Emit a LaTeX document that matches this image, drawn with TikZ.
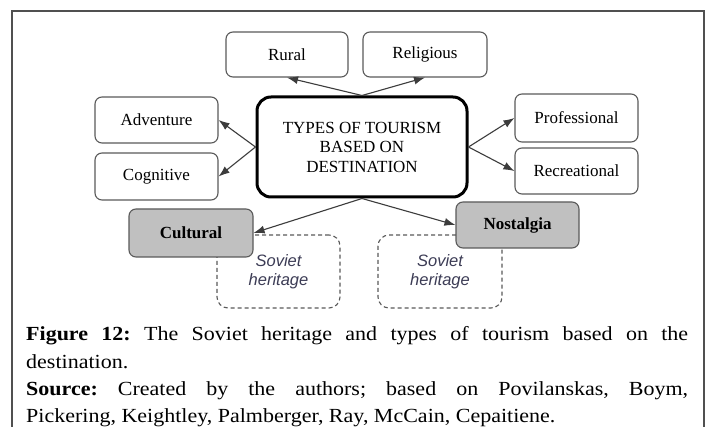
\documentclass[tikz,border=0pt]{standalone}
\usepackage{fontspec}
\setmainfont{Liberation Serif}
\newfontfamily\capfont[FakeStretch=1.1]{Liberation Serif}
\newfontfamily\sovfont{Liberation Sans}
\usetikzlibrary{arrows.meta}
\definecolor{framec}{RGB}{80,80,80}
\definecolor{boxc}{RGB}{90,90,90}
\definecolor{greyfill}{RGB}{192,192,192}
\definecolor{arrowc}{RGB}{60,60,60}
\definecolor{sovc}{RGB}{60,60,85}
\frenchspacing
\tikzset{
  typebox/.style={draw=boxc, line width=1.1pt, rounded corners=7pt, fill=white,
    inner sep=0pt, align=center, font=\fontsize{17}{19}\selectfont},
  keybox/.style={typebox, fill=greyfill, font=\fontsize{17}{19}\selectfont\bfseries},
  mainbox/.style={draw=black, line width=3pt, rounded corners=14pt, fill=white,
    inner sep=0pt, align=center, font=\fontsize{17}{19.5}\selectfont},
  herbox/.style={draw=boxc, line width=1.1pt, dash pattern=on 4pt off 3pt,
    rounded corners=11pt, inner sep=0pt, align=center,
    font=\fontsize{16.5}{19}\sovfont\itshape, text=sovc},
  conn/.style={draw=arrowc, line width=1.1pt, -{Latex[length=11pt,width=8pt]}},
  capline/.style={anchor=base west, inner sep=0pt, font=\fontsize{20}{24}\capfont}
}
\begin{document}
\begin{tikzpicture}[x=1pt,y=-1pt]
\clip (0,0) rectangle (713,427);
\fill[white] (0,0) rectangle (713,427);
\draw[framec, line width=1.3pt] (12,11) rectangle (704,460);
% dashed heritage boxes (behind)
\node[herbox, minimum width=123pt, minimum height=73pt] (herL) at (278.5,271.5) {Soviet\\heritage};
\node[herbox, minimum width=124pt, minimum height=73pt] (herR) at (440,271.5) {Soviet\\heritage};
% boxes
\node[mainbox, minimum width=210pt, minimum height=100pt] (main) at (362,147) {TYPES OF TOURISM\\BASED ON\\DESTINATION};
\node[typebox, minimum width=122pt, minimum height=45pt] (rural) at (287,54.5) {Rural};
\node[typebox, minimum width=124pt, minimum height=45pt] (relig) at (425,54.5) {Religious};
\node[typebox, minimum width=123pt, minimum height=46pt] (adv) at (156.5,120) {Adventure};
\node[typebox, minimum width=123pt, minimum height=47pt] (cog) at (156.5,176.5) {Cognitive};
\node[typebox, minimum width=123pt, minimum height=48pt] (prof) at (576.5,118) {Professional};
\node[typebox, minimum width=123pt, minimum height=46pt] (recr) at (576.5,171) {Recreational};
\node[keybox, minimum width=124pt, minimum height=48pt] (cult) at (191,233) {Cultural};
\node[keybox, minimum width=123pt, minimum height=46pt] (nost) at (517.5,225) {Nostalgia};
% connectors
\draw[conn] (main.north) -- (rural.south);
\draw[conn] (main.north) -- (relig.south);
\draw[conn] (main.west) -- (adv.east);
\draw[conn] (main.west) -- (cog.east);
\draw[conn] (main.east) -- (prof.west);
\draw[conn] (main.east) -- (recr.west);
\draw[conn] (main.south) -- (cult.east);
\draw[conn] (main.south) -- (nost.west);
% caption
\node[capline] (cap1) at (26,341) {\makebox[662pt][s]{\bfseries Figure 12: \mdseries The Soviet heritage and types of tourism based on the}};
\node[capline] (cap2) at (26,369) {destination.};
\node[capline] (cap3) at (26,396) {\makebox[662pt][s]{\bfseries Source: \mdseries Created by the authors; based on Povilanskas, Boym,}};
\node[capline] (cap4) at (26,423) {Pickering, Keightley, Palmberger, Ray, McCain, Cepaitiene.};
\end{tikzpicture}
\end{document}
